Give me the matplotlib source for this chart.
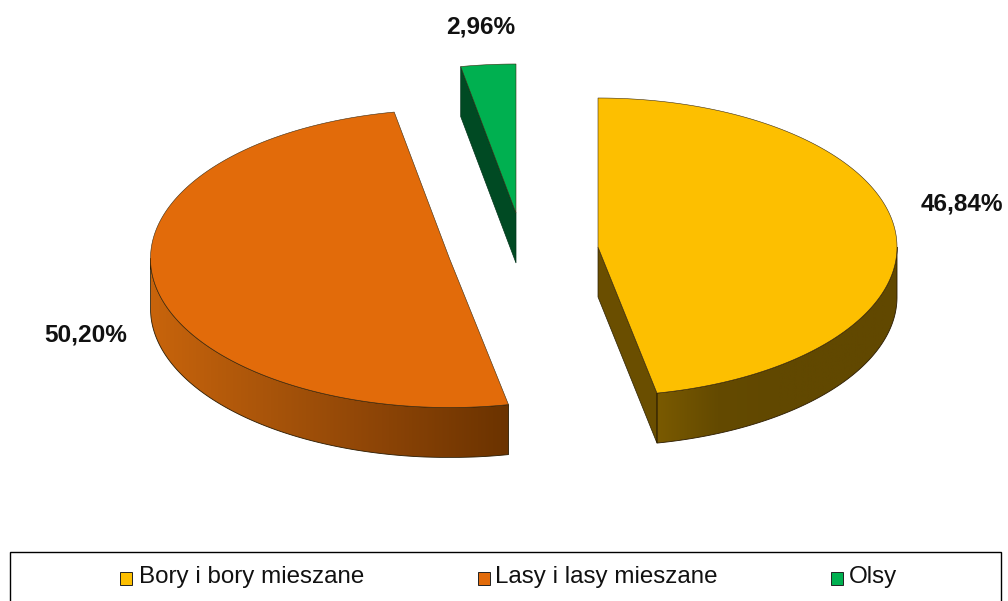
import numpy as np
import matplotlib
matplotlib.use('Agg')
import matplotlib.pyplot as plt
from matplotlib.colors import LinearSegmentedColormap
from matplotlib.patches import Polygon, Rectangle

plt.rcParams['font.family'] = ['Liberation Sans', 'DejaVu Sans']

# Data
categories = ['Bory i bory mieszane', 'Lasy i lasy mieszane', 'Olsy']
shares = [46.84, 50.20, 2.96]
share_labels = ['46,84%', '50,20%', '2,96%']
colors = ['#FDBF00', '#E26B0A', '#00B050']

# Pie geometry in pixels
rx, ry, depth = 299, 149, 50
centers = [(598, 247), (449.5, 258.5), (516, 213)]
label_x = [921, 44, 446]
label_y = [204, 335, 27]
legend_box_x = [120, 478, 831]
legend_text_x = [139, 495, 849]


def ellipse(cx, cy, a0, a1, n=200):
    # angles are clockwise from 12 o'clock, in degrees
    t = np.radians(np.linspace(a0, a1, n))
    return cx + rx * np.sin(t), cy - ry * np.cos(t)


fig = plt.figure(figsize=(10.08, 6.01), dpi=100)
ax = fig.add_axes([0, 0, 1, 1])
ax.axis('off')

bounds = np.concatenate([[0], np.cumsum(shares) / sum(shares) * 360])

# Rim of a slice: gradient image clipped to the rim outline
rim_ramps = [
    LinearSegmentedColormap.from_list('r0', ['#7A5A00', '#644A00', '#614800', '#614800', '#614800']),
    LinearSegmentedColormap.from_list('r1', ['#C8640C', '#A8540A', '#8A4306', '#6B3300']),
]
rim_ranges = [(90, bounds[1]), (bounds[1], 270)]
for i, (lo, hi) in enumerate(rim_ranges):
    cx, cy = centers[i]
    x, y = ellipse(cx, cy, lo, hi)
    outline = list(zip(x, y)) + list(zip(x[::-1], y[::-1] + depth))
    rim = Polygon(outline, closed=True, fc='none', ec='#2A1A00', lw=0.6, zorder=3)
    ax.add_patch(rim)
    grad = np.linspace(0, 1, 256).reshape(1, -1)
    im = ax.imshow(grad, cmap=rim_ramps[i], aspect='auto', zorder=2,
                   extent=(x.min(), x.max(), y.max() + depth, y.min()))
    im.set_clip_path(rim)

# Cut faces
cx, cy = centers[0]
ex, ey = ellipse(cx, cy, bounds[1], bounds[1], 1)
ax.add_patch(Polygon([(cx, cy), (ex[0], ey[0]), (ex[0], ey[0] + depth), (cx, cy + depth)],
                     closed=True, fc='#6A4E00', ec='#2A1F00', lw=0.5, zorder=2))
cx, cy = centers[2]
ex, ey = ellipse(cx, cy, bounds[2], bounds[2], 1)
ax.add_patch(Polygon([(cx, cy), (ex[0], ey[0]), (ex[0], ey[0] + depth), (cx, cy + depth)],
                     closed=True, fc='#004A23', ec='#00331A', lw=0.5, zorder=2))

# Top faces
for i in range(3):
    cx, cy = centers[i]
    x, y = ellipse(cx, cy, bounds[i], bounds[i + 1])
    pts = [(cx, cy)] + list(zip(x, y))
    ax.add_patch(Polygon(pts, closed=True, fc=colors[i], ec='#3A2A10', lw=0.4, zorder=4))
    ax.text(label_x[i], label_y[i], share_labels[i], ha='left', va='center',
            fontsize=17.6, fontweight='bold', color='#111111', zorder=5)

# Legend frame, runs off the bottom of the picture
ax.add_patch(Rectangle((9.5, 551.5), 991, 60, fc='white', ec='black', lw=1, zorder=1))
for i, name in enumerate(categories):
    ax.add_patch(Rectangle((legend_box_x[i], 572), 12, 13, fc=colors[i], ec='#222222', lw=0.7, zorder=5))
    ax.text(legend_text_x[i], 577, name, ha='left', va='center', fontsize=17.4, color='#111111', zorder=5)

ax.set_xlim(0, 1008)
ax.set_ylim(601, 0)
fig.savefig('out.png', dpi=100)
